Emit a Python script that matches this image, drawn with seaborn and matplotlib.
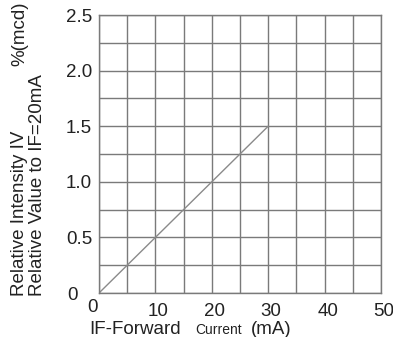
import matplotlib
matplotlib.use("Agg")
import matplotlib.pyplot as plt
import matplotlib.transforms as mtransforms
import seaborn as sns
import pandas as pd
import numpy as np

# data
current_mA = [0, 30]
relative_intensity = [0.0, 1.5]
x_ticks = [0, 10, 20, 30, 40, 50]
x_ticklabels = ["", "10", "20", "30", "40", "50"]
y_ticks = [0, 0.5, 1.0, 1.5, 2.0, 2.5]
y_ticklabels = ["", "0.5", "1.0", "1.5", "2.0", "2.5"]

sns.set_style("white")
plt.rcParams["font.family"] = ["Liberation Sans", "DejaVu Sans"]

W, H = 393, 337
fig = plt.figure(figsize=(W / 100, H / 100), dpi=100)
ax = fig.add_axes([99 / W, 1 - 293 / H, 282 / W, 278 / H])

df = pd.DataFrame({"x": current_mA, "y": relative_intensity})
sns.lineplot(data=df, x="x", y="y", ax=ax, color="#8a8a8a", linewidth=1.0)

ax.set_xlim(0, 50)
ax.set_ylim(0, 2.5)
ax.set_xticks(np.arange(0, 50.1, 5), minor=True)
ax.set_yticks(np.arange(0, 2.51, 0.25), minor=True)
ax.set_xticks(x_ticks)
ax.set_yticks(y_ticks)
ax.set_xticklabels(x_ticklabels, fontsize=13.5, color="#222222")
ax.set_yticklabels(y_ticklabels, fontsize=13.5, color="#222222")
ax.grid(True, which="both", color="#7a7a7a", linewidth=1.0)
ax.tick_params(which="both", length=0)
ax.tick_params(axis="x", pad=7)
ax.tick_params(axis="y", pad=5)
for lab in ax.get_xticklabels():
    lab.set_transform(lab.get_transform() + mtransforms.ScaledTranslation(3 / 100, 0, fig.dpi_scale_trans))
for s in ax.spines.values():
    s.set_color("#7a7a7a")
    s.set_linewidth(1.0)
ax.set_xlabel("")
ax.set_ylabel("")

def fx(px):
    return px / W

def fy(py):
    return 1 - py / H

# zero labels
fig.text(fx(78), fy(296), "0", fontsize=13.5, ha="right", va="center", color="#222222")
fig.text(fx(92), fy(308), "0", fontsize=13.5, ha="center", va="center", color="#222222")

# y label
fig.text(fx(20), fy(296), "Relative Intensity IV", rotation=90, fontsize=13.5,
         ha="center", va="bottom", color="#222222")
fig.text(fx(20), fy(2), "%(mcd)", rotation=90, fontsize=13.5,
         ha="center", va="top", color="#222222")
fig.text(fx(38), fy(296), "Relative Value to IF=20mA", rotation=90, fontsize=13.5,
         ha="center", va="bottom", color="#222222")

# x label
fig.text(fx(89), fy(334), "IF-Forward", fontsize=13.5, ha="left", va="baseline", color="#222222")
fig.text(fx(195), fy(334), "Current", fontsize=10, ha="left", va="baseline", color="#222222")
fig.text(fx(251), fy(334), "(mA)", fontsize=13.5, ha="left", va="baseline", color="#222222")

fig.savefig("out.png", dpi=100)
